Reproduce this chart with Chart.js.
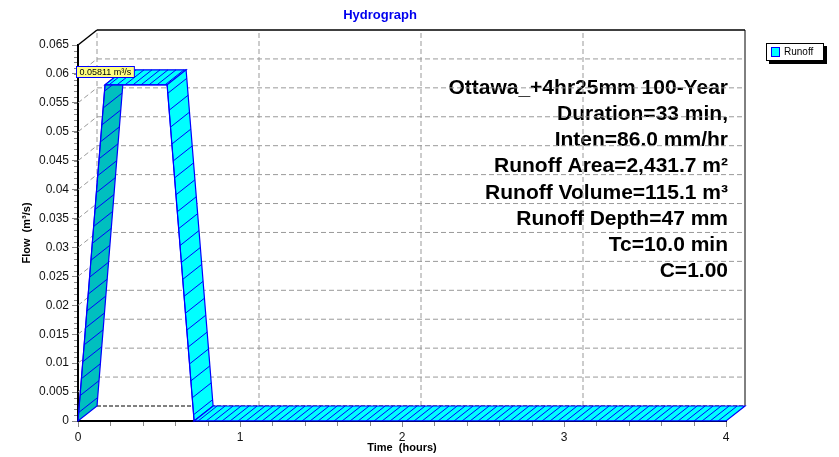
<!DOCTYPE html>
<html>
<head>
<meta charset="utf-8">
<title>Hydrograph</title>
<script src="https://cdn.jsdelivr.net/npm/chart.js@4.4.1/dist/chart.umd.min.js"></script>
<style>
  html, body { margin: 0; padding: 0; background: #fff; }
  #wrap { width: 839px; height: 457px; }
</style>
</head>
<body>
<div id="wrap"><canvas id="hydroChart" width="839" height="457"></canvas></div>
<script>
// Runoff hydrograph (rational method trapezoid)
const timeHours = [0, 0.1667, 0.55, 0.7167, 4];
const runoffFlow = [0, 0.05811, 0.05811, 0, 0];
const xTicks = [0, 1, 2, 3, 4];
const yTicks = [0, 0.005, 0.01, 0.015, 0.02, 0.025, 0.03, 0.035, 0.04, 0.045, 0.05, 0.055, 0.06, 0.065];
const yTickLabels = ['0', '0.005', '0.01', '0.015', '0.02', '0.025', '0.03', '0.035', '0.04', '0.045', '0.05', '0.055', '0.06', '0.065'];
const seriesName = 'Runoff';
const peakLabel = '0.05811 m³/s';
const noteLines = [
  'Ottawa_+4hr25mm 100-Year',
  'Duration=33 min,',
  'Inten=86.0 mm/hr',
  'Runoff Area=2,431.7 m²',
  'Runoff Volume=115.1 m³',
  'Runoff Depth=47 mm',
  'Tc=10.0 min',
  'C=1.00'
];

const FONT = '"Liberation Sans", Arial, Helvetica, sans-serif';
Chart.defaults.font.family = FONT;

// depth of the 3D box (pixels)
const DX = 19, DY = -15;
const cyan = '#00ffff';
const teal = '#00bfbf';
const blue = '#0000ff';

function seg(ctx, x1, y1, x2, y2) {
  ctx.beginPath();
  ctx.moveTo(x1, y1);
  ctx.lineTo(x2, y2);
  ctx.stroke();
}

const ribbonPlugin = {
  id: 'ribbon3d',
  beforeDatasetsDraw(chart) {
    const ctx = chart.ctx;
    const { left, right, top, bottom } = chart.chartArea;
    const xs = chart.scales.x, ys = chart.scales.y;
    ctx.save();

    // title
    ctx.fillStyle = '#0000ee';
    ctx.font = 'bold 13px ' + FONT;
    ctx.textAlign = 'center';
    ctx.textBaseline = 'middle';
    ctx.fillText('Hydrograph', 380, 15);

    // storm notes
    ctx.fillStyle = '#000';
    ctx.font = 'bold 21px ' + FONT;
    ctx.textAlign = 'right';
    noteLines.forEach((t, i) => ctx.fillText(t, right + 2, 88 + i * 26.2));

    // back wall grid
    ctx.lineWidth = 1;
    ctx.strokeStyle = '#999';
    ctx.setLineDash([5, 3]);
    ys.ticks.forEach(t => {
      if (t.value === 0 || t.value === ys.max) return;
      const py = ys.getPixelForValue(t.value);
      seg(ctx, left, py, left + DX, py + DY);
      seg(ctx, left + DX, py + DY, right + DX, py + DY);
    });
    xs.ticks.forEach(t => {
      if (t.value === xs.max) return;
      const px = xs.getPixelForValue(t.value) + DX;
      seg(ctx, px, bottom + DY, px, top + DY);
    });

    // box frame
    ctx.strokeStyle = '#000';
    ctx.setLineDash([4, 2]);
    seg(ctx, left + DX, bottom + DY, right + DX, bottom + DY);
    ctx.setLineDash([]);
    ctx.lineWidth = 1.5;
    seg(ctx, left + DX, top + DY, right + DX, top + DY);
    seg(ctx, left, top, left + DX, top + DY);
    ctx.lineWidth = 1;
    seg(ctx, right + DX, top + DY, right + DX, bottom + DY);

    // minor ticks
    ctx.strokeStyle = '#888';
    for (let v = 0; v <= 0.065 + 1e-9; v += 0.001) {
      const py = Math.round(ys.getPixelForValue(v)) + 0.5;
      seg(ctx, left - 4, py, left - 1, py);
    }
    for (let v = 0; v <= 4 + 1e-9; v += 0.2) {
      const px = Math.round(xs.getPixelForValue(v)) + 0.5;
      seg(ctx, px, bottom + 1, px, bottom + 5);
    }

    // ribbon faces
    const pts = chart.getDatasetMeta(0).data.map(p => ({ x: p.x, y: p.y }));
    for (let i = 0; i < pts.length - 1; i++) {
      const a = pts[i], b = pts[i + 1];
      ctx.beginPath();
      ctx.moveTo(a.x, a.y);
      ctx.lineTo(b.x, b.y);
      ctx.lineTo(b.x + DX, b.y + DY);
      ctx.lineTo(a.x + DX, a.y + DY);
      ctx.closePath();
      ctx.fillStyle = b.y < a.y - 1 ? teal : cyan;
      ctx.fill();

      // hatching along the depth direction
      const len = Math.hypot(b.x - a.x, b.y - a.y);
      const sinT = Math.abs(b.y - a.y) / (len || 1);
      const step = 8 + 9 * sinT;
      ctx.strokeStyle = blue;
      ctx.lineWidth = 1;
      for (let d = step / 2; d < len; d += step) {
        const f = d / len;
        const hx = a.x + (b.x - a.x) * f, hy = a.y + (b.y - a.y) * f;
        seg(ctx, hx, hy, hx + DX, hy + DY);
      }

      ctx.beginPath();
      ctx.moveTo(a.x, a.y);
      ctx.lineTo(b.x, b.y);
      ctx.lineTo(b.x + DX, b.y + DY);
      ctx.lineTo(a.x + DX, a.y + DY);
      ctx.closePath();
      ctx.lineWidth = 1.2;
      ctx.stroke();
    }
    ctx.restore();
  },
  afterDatasetsDraw(chart) {
    const ctx = chart.ctx;
    const meta = chart.getDatasetMeta(0);
    ctx.save();

    // peak value label
    let k = 0;
    runoffFlow.forEach((v, i) => { if (v > runoffFlow[k]) k = i; });
    const p = meta.data[k];
    ctx.font = '9px ' + FONT;
    const w = ctx.measureText(peakLabel).width + 6;
    const bx = Math.round(p.x - w / 2) + 0.5, by = Math.round(p.y - 19) + 0.5;
    ctx.fillStyle = '#ffff80';
    ctx.fillRect(bx, by, w, 11);
    ctx.strokeStyle = blue;
    ctx.lineWidth = 1;
    ctx.strokeRect(bx, by, w, 11);
    ctx.fillStyle = '#000';
    ctx.textAlign = 'left';
    ctx.textBaseline = 'middle';
    ctx.fillText(peakLabel, bx + 3, by + 6);

    // legend
    ctx.fillStyle = '#000';
    ctx.fillRect(769, 46, 58, 18);
    ctx.fillStyle = '#fff';
    ctx.fillRect(766, 43, 58, 18);
    ctx.strokeStyle = '#000';
    ctx.strokeRect(766.5, 43.5, 57, 17);
    ctx.fillStyle = cyan;
    ctx.fillRect(771.5, 47.5, 8, 9);
    ctx.strokeStyle = blue;
    ctx.strokeRect(771.5, 47.5, 8, 9);
    ctx.fillStyle = '#000';
    ctx.font = '10px ' + FONT;
    ctx.fillText(seriesName, 784, 52.5);
    ctx.restore();
  }
};

new Chart(document.getElementById('hydroChart'), {
  type: 'line',
  data: {
    datasets: [{
      label: seriesName,
      data: timeHours.map((t, i) => ({ x: t, y: runoffFlow[i] })),
      borderColor: blue,
      borderWidth: 1,
      pointRadius: 0,
      fill: false,
      tension: 0
    }]
  },
  options: {
    responsive: false,
    animation: false,
    layout: { padding: { top: 45, right: 113, bottom: 0, left: 0 } },
    plugins: {
      legend: { display: false },
      title: { display: false },
      tooltip: { enabled: false }
    },
    scales: {
      x: {
        type: 'linear',
        min: 0,
        max: 4,
        afterBuildTicks: s => { s.ticks = xTicks.map(v => ({ value: v })); },
        afterFit: s => { s.height = 36; },
        ticks: { color: '#111', font: { size: 12 }, padding: 3, maxRotation: 0 },
        grid: { drawOnChartArea: false, color: '#888', tickLength: 6 },
        border: { color: '#000', width: 2 },
        title: { display: true, text: 'Time  (hours)', color: '#000', font: { size: 11, weight: 'bold' }, padding: { top: 0, bottom: 2 } }
      },
      y: {
        type: 'linear',
        min: 0,
        max: 0.065,
        afterBuildTicks: s => { s.ticks = yTicks.map(v => ({ value: v })); },
        afterFit: s => { s.width = 78; },
        ticks: { callback: (v, i) => yTickLabels[i], color: '#111', font: { size: 12 }, padding: 3 },
        grid: { drawOnChartArea: false, color: '#888', tickLength: 6 },
        border: { color: '#000', width: 2 },
        title: { display: true, text: 'Flow  (m³/s)', color: '#000', font: { size: 11, weight: 'bold' }, padding: { top: 20, bottom: 0 } }
      }
    }
  },
  plugins: [ribbonPlugin]
});
</script>
</body>
</html>
